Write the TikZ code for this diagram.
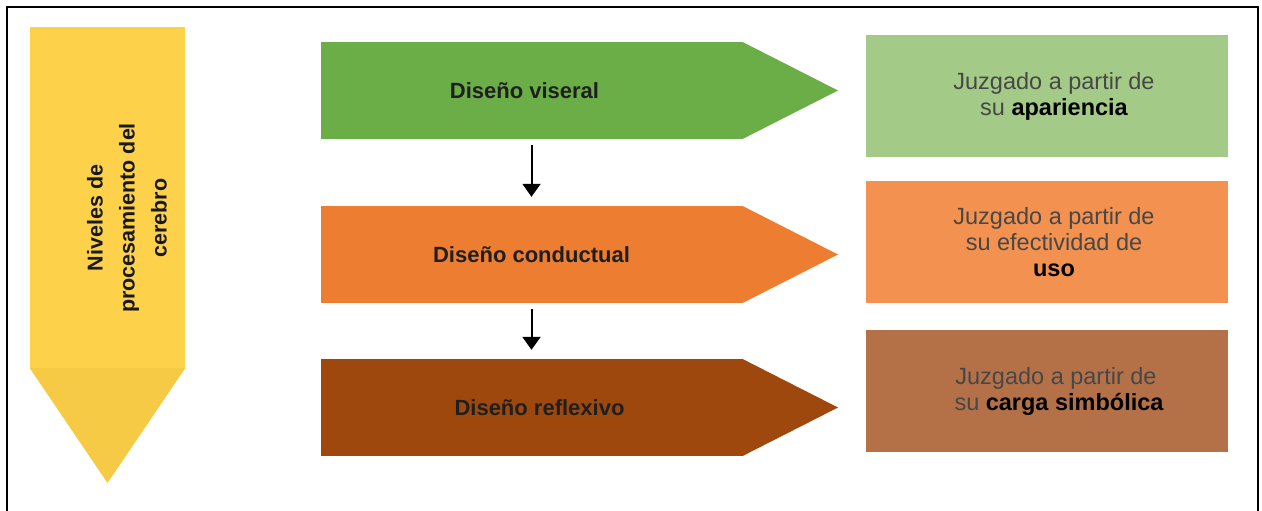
\documentclass[tikz,border=0pt]{standalone}
\usepackage{fontspec}
\setmainfont{Liberation Sans}
\usetikzlibrary{arrows.meta}

\definecolor{levelyellow}{HTML}{FDD24A}
\definecolor{levelyellowtip}{HTML}{F6CA45}
\definecolor{viscgreen}{HTML}{6BAE47}
\definecolor{viscgreenlt}{HTML}{A3CB87}
\definecolor{behorange}{HTML}{ED7D31}
\definecolor{behorangelt}{HTML}{F39250}
\definecolor{reflbrown}{HTML}{9E480E}
\definecolor{reflbrownlt}{HTML}{B47148}

\newcommand{\indentline}{\hspace*{14pt}}

\tikzset{
  levelbody/.style={draw=none, inner sep=0pt, minimum width=421pt, minimum height=97pt,
    font=\fontsize{22}{26}\selectfont\bfseries, text=black!88},
  judgebox/.style={draw=none, inner sep=0pt, minimum width=362pt, minimum height=122pt,
    align=center, font=\fontsize{23.5}{26}\selectfont, text=black!72},
  flowarrow/.style={line width=2pt, -{Triangle[width=18pt,length=13pt]},
    shorten <=6pt, shorten >=9pt},
  frameline/.style={line width=2.5pt}
}

\begin{document}
\begin{tikzpicture}[x=1pt,y=-1pt]
  \useasboundingbox (0,0) rectangle (1262,511);

  % open frame (no bottom edge)
  \draw[frameline] (7,511) -- (7,7) -- (1258,7) -- (1258,511);

  % vertical yellow arrow with its title
  \node[fill=levelyellow, inner sep=0pt, minimum width=155pt, minimum height=341pt]
    (levels) at (107.5,197.5) {};
  \fill[levelyellowtip] (levels.south west) -- (levels.south east) -- (107.5,483) -- cycle;
  \node[rotate=90, align=center, inner sep=0pt,
        font=\fontsize{21.5}{32}\selectfont\bfseries, text=black!90]
    (levelstitle) at (127,218) {Niveles de\\procesamiento del\\cerebro};

  % three design levels (shaft node + pointed head)
  \node[levelbody, fill=viscgreen] (visceral) at (531.5,90.5) {Diseño viseral\hspace*{14pt}};
  \fill[viscgreen] (visceral.north east) -- (838,90.5) -- (visceral.south east) -- cycle;

  \node[levelbody, fill=behorange] (behaviour) at (531.5,254.5) {Diseño conductual};
  \fill[behorange] (behaviour.north east) -- (838,254.5) -- (behaviour.south east) -- cycle;

  \node[levelbody, fill=reflbrown] (reflective) at (531.5,407.5) {\hspace*{16pt}Diseño reflexivo};
  \fill[reflbrown] (reflective.north east) -- (838,407.5) -- (reflective.south east) -- cycle;

  % descending flow between levels
  \draw[flowarrow] (visceral.south) -- (behaviour.north);
  \draw[flowarrow] (behaviour.south) -- (reflective.north);

  % judgement boxes
  \node[judgebox, fill=viscgreenlt] (appearance) at (1047,96)
    {\indentline Juzgado a partir de\\\indentline su \textcolor{black}{\bfseries apariencia}};
  \node[judgebox, fill=behorangelt] (usage) at (1047,242)
    {\indentline Juzgado a partir de\\\indentline su efectividad de\\\indentline\textcolor{black}{\bfseries uso}};
  \node[judgebox, fill=reflbrownlt] (symbolic) at (1047,391)
    {\hspace*{18pt}Juzgado a partir de\\\hspace*{24pt}su \textcolor{black}{\bfseries carga simbólica}};
\end{tikzpicture}
\end{document}
